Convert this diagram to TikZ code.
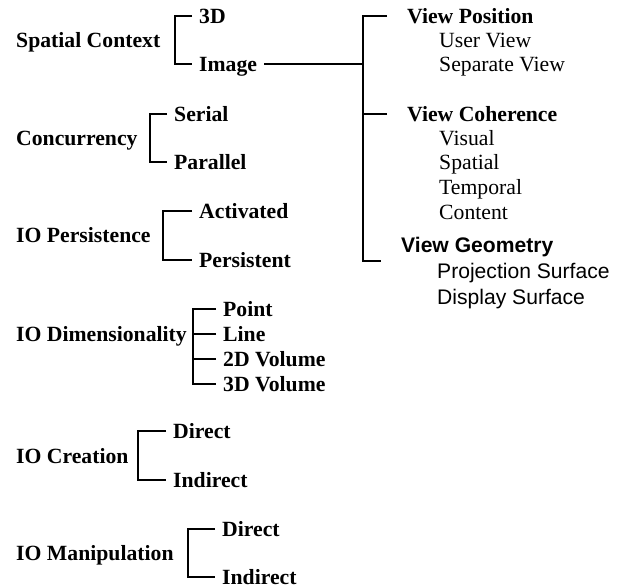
\documentclass[tikz,border=0pt]{standalone}
\usepackage{fontspec}
\setmainfont{Liberation Serif}
\setsansfont{Liberation Sans}
\begin{document}
\begin{tikzpicture}[x=1pt,y=-1pt,
	lbl/.style={anchor=west,inner xsep=0pt,inner ysep=0pt,text height=14.4pt,text depth=0pt,font=\fontsize{21.7}{26}\selectfont\bfseries},
	leaf/.style={lbl,inner xsep=7pt},
	sub/.style={lbl,font=\fontsize{21.7}{26}\selectfont},
	geo/.style={lbl,text height=15.1pt,font=\fontsize{21.1}{26}\selectfont\sffamily\bfseries},
	geosub/.style={geo,font=\fontsize{21.1}{26}\selectfont\sffamily},
	brk/.style={line width=2pt}]
		\useasboundingbox (0,0) rectangle (619,587);
		\node[lbl] (sc) at (16,40) {Spatial Context};
		\node[leaf] (d3) at (192,16) {3D};
		\node[leaf] (img) at (192,64) {Image};
		\draw[brk] (d3.west) -- ++(-17,0) |- (img.west);
		\node[lbl] (cc) at (16,138) {Concurrency};
		\node[leaf] (ser) at (167,114) {Serial};
		\node[leaf] (par) at (167,162) {Parallel};
		\draw[brk] (ser.west) -- ++(-17,0) |- (par.west);
		\node[lbl] (iop) at (16,235) {IO Persistence};
		\node[leaf] (act) at (192,211) {Activated};
		\node[leaf] (pers) at (192,260) {Persistent};
		\draw[brk] (act.west) -- ++(-29,0) |- (pers.west);
		\node[lbl] (iod) at (16,334) {IO Dimensionality};
		\node[leaf] (pt) at (216,309) {Point};
		\node[leaf] (ln) at (216,334) {Line};
		\node[leaf] (v2) at (216,359) {2D Volume};
		\node[leaf] (v3) at (216,384) {3D Volume};
		\draw[brk] (pt.west) -- ++(-23,0) coordinate (dtop) |- (v3.west);
		\foreach \n in {ln,v2}
			\draw[brk] (\n.west) -- (\n.west -| dtop);
		\node[lbl] (ioc) at (16,456) {IO Creation};
		\node[leaf] (dc) at (166,431) {Direct};
		\node[leaf] (ic) at (166,480) {Indirect};
		\draw[brk] (dc.west) -- ++(-28,0) |- (ic.west);
		\node[lbl] (iom) at (16,553) {IO Manipulation};
		\node[leaf] (dm) at (215,529) {Direct};
		\node[leaf] (im) at (215,577) {Indirect};
		\draw[brk] (dm.west) -- ++(-27,0) |- (im.west);
		\node[leaf,inner xsep=20pt] (vp) at (387,16) {View Position};
		\node[sub] (uv) at (439,40) {User View};
		\node[sub] (sv) at (439,64) {Separate View};
		\node[leaf,inner xsep=20pt] (vc) at (387,114) {View Coherence};
		\node[sub] (vis) at (439,138) {Visual};
		\node[sub] (spa) at (439,162) {Spatial};
		\node[sub] (tem) at (439,187) {Temporal};
		\node[sub] (con) at (439,212) {Content};
		\node[geo] (vg) at (401,245) {View Geometry};
		\node[geosub] (ps) at (437,271) {Projection Surface};
		\node[geosub] (ds) at (437,297) {Display Surface};
		\coordinate (gend) at (381,261);
		\draw[brk] (vp.west) -- ++(-24,0) coordinate (vtop) |- (gend);
		\draw[brk] (vc.west) -- (vc.west -| vtop);
		\draw[brk] (img.east) -- (img.east -| vtop);
\end{tikzpicture}
\end{document}
